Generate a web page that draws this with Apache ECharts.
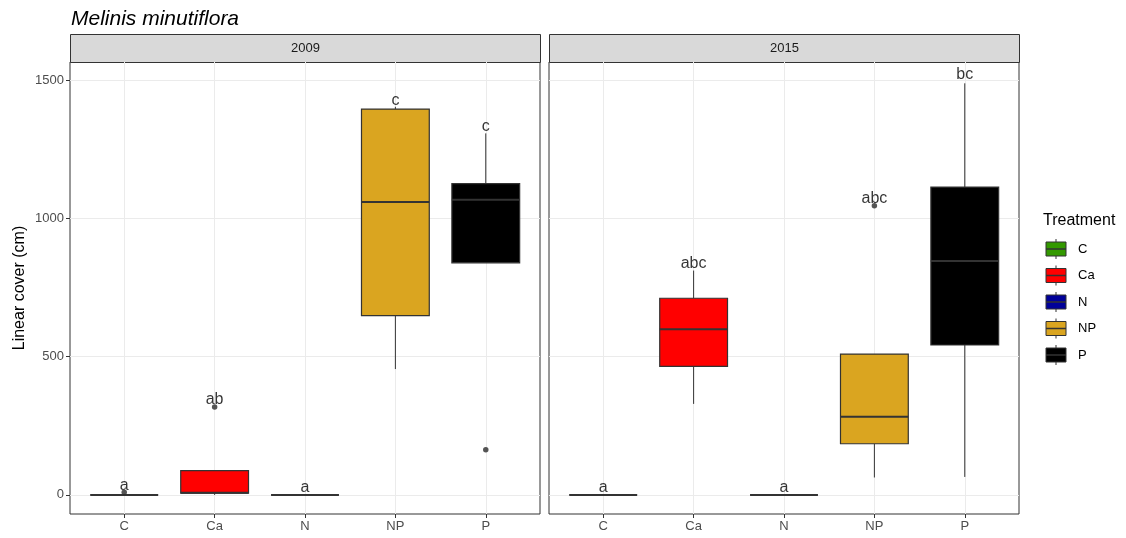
<!DOCTYPE html>
<html>
<head>
<meta charset="utf-8">
<script src="https://cdn.jsdelivr.net/npm/echarts@6/dist/echarts.min.js"></script>
<style>
  html, body { margin: 0; padding: 0; background: #ffffff; }
  #chart { width: 1126px; height: 538px; }
</style>
</head>
<body>
<div id="chart"></div>
<script>
// Treatments along the x axis and the two sampling years (one facet each)
const categories = ['C', 'Ca', 'N', 'NP', 'P'];
const years = ['2009', '2015'];
const treatmentColors = ['#339900', '#FF0000', '#000099', '#DAA520', '#000000'];
const yTicks = [0, 500, 1000, 1500];

// Box summaries per treatment: [lower whisker, Q1, median, Q3, upper whisker]
const stats2009 = [
  [0, 0, 0, 0, 0],
  [0, 6, 8, 88, 88],
  [0, 0, 0, 0, 0],
  [455, 648, 1059, 1395, 1403],
  [839, 839, 1067, 1125, 1307]
];
const stats2015 = [
  [0, 0, 0, 0, 0],
  [329, 465, 599, 711, 811],
  [0, 0, 0, 0, 0],
  [63, 185, 283, 509, 509],
  [65, 542, 846, 1113, 1488]
];

// Outlying observations: [treatment, value]
const outliers2009 = [['C', 10], ['Ca', 318], ['P', 163]];
const outliers2015 = [['NP', 1045]];

// Significance letters and the height they sit at
const letters2009 = ['a', 'ab', 'a', 'c', 'c'];
const letters2015 = ['a', 'abc', 'a', 'abc', 'bc'];
const letterY2009 = [33, 344, 28, 1427, 1331];
const letterY2015 = [28, 837, 28, 1072, 1518];

const FONT = '"Liberation Sans", Arial, sans-serif';
const INK = '#333333';

const panels = [
  { left: 70, stats: stats2009, outliers: outliers2009, letters: letters2009, letterY: letterY2009 },
  { left: 549, stats: stats2015, outliers: outliers2015, letters: letters2015, letterY: letterY2015 }
];
const PANEL_TOP = 62, PANEL_W = 470, PANEL_H = 452, STRIP_H = 28;
const catPos = categories.map((c, i) => i + 1);

function renderBox(params, api) {
  const x = api.value(0);
  const lo = api.coord([x, api.value(1)]);
  const q1 = api.coord([x, api.value(2)]);
  const med = api.coord([x, api.value(3)]);
  const q3 = api.coord([x, api.value(4)]);
  const hi = api.coord([x, api.value(5)]);
  const fill = treatmentColors[api.value(6)];
  const half = api.size([0.75, 0])[0] / 2;
  const cx = med[0];
  return {
    type: 'group',
    children: [
      { type: 'line', shape: { x1: cx, y1: lo[1], x2: cx, y2: q1[1] }, style: { stroke: INK, lineWidth: 1 } },
      { type: 'line', shape: { x1: cx, y1: q3[1], x2: cx, y2: hi[1] }, style: { stroke: INK, lineWidth: 1 } },
      { type: 'rect', shape: { x: cx - half, y: q3[1], width: half * 2, height: q1[1] - q3[1] },
        style: { fill: fill, stroke: INK, lineWidth: 1.2 } },
      { type: 'line', shape: { x1: cx - half, y1: med[1], x2: cx + half, y2: med[1] }, style: { stroke: INK, lineWidth: 2 } }
    ]
  };
}

const grids = [], xAxes = [], yAxes = [], series = [], graphics = [];

panels.forEach((p, g) => {
  grids.push({ left: p.left, top: PANEL_TOP, width: PANEL_W, height: PANEL_H,
    show: true, borderColor: INK, borderWidth: 1, backgroundColor: 'transparent' });

  xAxes.push({
    type: 'value', gridIndex: g, min: 0.4, max: 5.6, minInterval: 1, maxInterval: 1,
    axisLine: { show: false, onZero: false },
    axisTick: { show: true, length: 4, lineStyle: { color: INK }, customValues: catPos },
    axisLabel: { show: true, customValues: catPos, margin: 6, color: '#4D4D4D', fontSize: 13, fontFamily: FONT,
      formatter: v => categories[Math.round(v) - 1] || '' },
    splitLine: { show: true, lineStyle: { color: '#EBEBEB', width: 1 } }
  });

  yAxes.push({
    type: 'value', gridIndex: g, min: -69, max: 1565, minInterval: 250, maxInterval: 250,
    axisLine: { show: false, onZero: false },
    axisTick: { show: g === 0, length: 4, lineStyle: { color: INK }, customValues: yTicks },
    axisLabel: { show: g === 0, customValues: yTicks, margin: 6, color: '#4D4D4D', fontSize: 13, fontFamily: FONT,
      formatter: v => String(Math.round(v)) },
    splitLine: { show: true, lineStyle: { color: '#EBEBEB', width: 1 } },
    name: g === 0 ? 'Linear cover (cm)' : '',
    nameLocation: 'middle', nameRotate: 90, nameGap: 42,
    nameTextStyle: { color: '#000000', fontSize: 16, fontFamily: FONT }
  });

  series.push({
    type: 'custom', xAxisIndex: g, yAxisIndex: g, z: 2,
    renderItem: renderBox,
    encode: { x: 0, y: [1, 2, 3, 4, 5] },
    data: p.stats.map((s, i) => [i + 1, s[0], s[1], s[2], s[3], s[4], i])
  });

  series.push({
    type: 'scatter', xAxisIndex: g, yAxisIndex: g, z: 3,
    symbol: 'circle', symbolSize: 5.5, silent: true,
    itemStyle: { color: '#2b2b2b' },
    data: p.outliers.map(o => [categories.indexOf(o[0]) + 1, o[1]])
  });

  series.push({
    type: 'scatter', xAxisIndex: g, yAxisIndex: g, z: 4,
    symbol: 'circle', symbolSize: 1, silent: true,
    itemStyle: { color: 'rgba(0,0,0,0)' },
    label: { show: true, position: 'inside', color: '#000000', fontSize: 16, fontFamily: FONT,
      formatter: d => d.value[2] },
    data: p.letters.map((t, i) => [i + 1, p.letterY[i], t])
  });

  // facet strip with the year
  graphics.push({
    type: 'group', left: p.left, top: PANEL_TOP - STRIP_H,
    children: [
      { type: 'rect', shape: { x: 0, y: 0, width: PANEL_W, height: STRIP_H },
        style: { fill: '#D9D9D9', stroke: INK, lineWidth: 1 } },
      { type: 'text', x: PANEL_W / 2, y: STRIP_H / 2,
        style: { text: years[g], fill: '#1A1A1A', fontSize: 13, fontFamily: FONT, align: 'center', verticalAlign: 'middle' } }
    ]
  });
});

// Legend: boxplot keys for each treatment
const legendChildren = [
  { type: 'text', x: 0, y: 0,
    style: { text: 'Treatment', fill: '#000000', fontSize: 16, fontFamily: FONT, verticalAlign: 'middle' } }
];
categories.forEach((c, i) => {
  const cy = 28 + i * 26.5;
  legendChildren.push(
    { type: 'line', shape: { x1: 13, y1: cy - 10, x2: 13, y2: cy - 7 }, style: { stroke: INK, lineWidth: 1 } },
    { type: 'line', shape: { x1: 13, y1: cy + 7, x2: 13, y2: cy + 10 }, style: { stroke: INK, lineWidth: 1 } },
    { type: 'rect', shape: { x: 3, y: cy - 7, width: 20, height: 14 },
      style: { fill: treatmentColors[i], stroke: INK, lineWidth: 1 } },
    { type: 'line', shape: { x1: 3, y1: cy, x2: 23, y2: cy }, style: { stroke: INK, lineWidth: 1.5 } },
    { type: 'text', x: 35, y: cy,
      style: { text: c, fill: '#000000', fontSize: 13, fontFamily: FONT, verticalAlign: 'middle' } }
  );
});
graphics.push({ type: 'group', left: 1043, top: 213, children: legendChildren });

const chart = echarts.init(document.getElementById('chart'), null, { renderer: 'canvas' });
chart.setOption({
  animation: false,
  backgroundColor: '#ffffff',
  title: {
    text: 'Melinis minutiflora', left: 66, top: 4,
    textStyle: { fontStyle: 'italic', fontWeight: 'normal', fontSize: 21, color: '#000000', fontFamily: FONT }
  },
  grid: grids,
  xAxis: xAxes,
  yAxis: yAxes,
  series: series,
  graphic: graphics
});
</script>
</body>
</html>
